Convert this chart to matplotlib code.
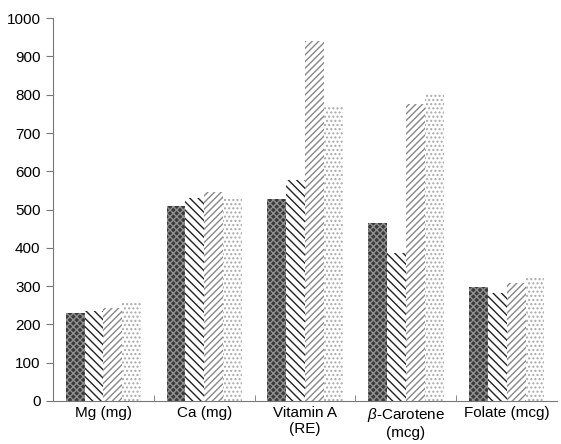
import matplotlib
matplotlib.use("Agg")
import matplotlib.pyplot as plt
import numpy as np

plt.rcParams['font.family'] = ['Liberation Sans', 'DejaVu Sans']
plt.rcParams['font.size'] = 11
plt.rcParams['hatch.linewidth'] = 1.0
plt.rcParams['mathtext.fontset'] = 'custom'
plt.rcParams['mathtext.it'] = 'Liberation Sans:italic'
plt.rcParams['mathtext.rm'] = 'Liberation Sans'

# data
categories = ["Mg (mg)", "Ca (mg)", "Vitamin A\n(RE)", "$\\beta$-Carotene\n(mcg)", "Folate (mcg)"]
series1 = [230, 510, 527, 465, 298]
series2 = [235, 530, 578, 387, 283]
series3 = [242, 545, 940, 775, 308]
series4 = [255, 527, 768, 805, 320]
yticks = [0, 100, 200, 300, 400, 500, 600, 700, 800, 900, 1000]

fig = plt.figure(figsize=(5.61, 4.44), dpi=100)
ax = fig.add_axes([0.0945, 0.097, 0.8985, 0.862])

x = np.arange(len(categories))
w = 0.187
styles = [
    dict(facecolor="#3a3a3a", edgecolor="#909090", hatch="xxxxx"),
    dict(facecolor="white", edgecolor="#222222", hatch="\\\\\\\\"),
    dict(facecolor="white", edgecolor="#888888", hatch="/////"),
    dict(facecolor="white", edgecolor="#aaaaaa", hatch="...."),
]
for i, (vals, st) in enumerate(zip([series1, series2, series3, series4], styles)):
    ax.bar(x + (i - 1.5) * w, vals, w, linewidth=0, **st)

ax.set_xlim(-0.5, len(categories) - 0.5)
ax.set_ylim(0, 1000)
ax.set_yticks(yticks)
ax.set_xticks(x)
ax.set_xticklabels(categories, linespacing=1.15)
ax.set_xticks(np.arange(len(categories) - 1) + 0.5, minor=True)
ax.tick_params(axis="x", which="major", length=0, pad=4)
ax.tick_params(axis="x", which="minor", direction="in", length=4, color="#777777")
ax.tick_params(axis="y", direction="out", length=5, color="#777777", pad=4)
for s in ["top", "right"]:
    ax.spines[s].set_visible(False)
for s in ["left", "bottom"]:
    ax.spines[s].set_color("#777777")
    ax.spines[s].set_linewidth(0.8)

fig.savefig("out.png", dpi=100)
